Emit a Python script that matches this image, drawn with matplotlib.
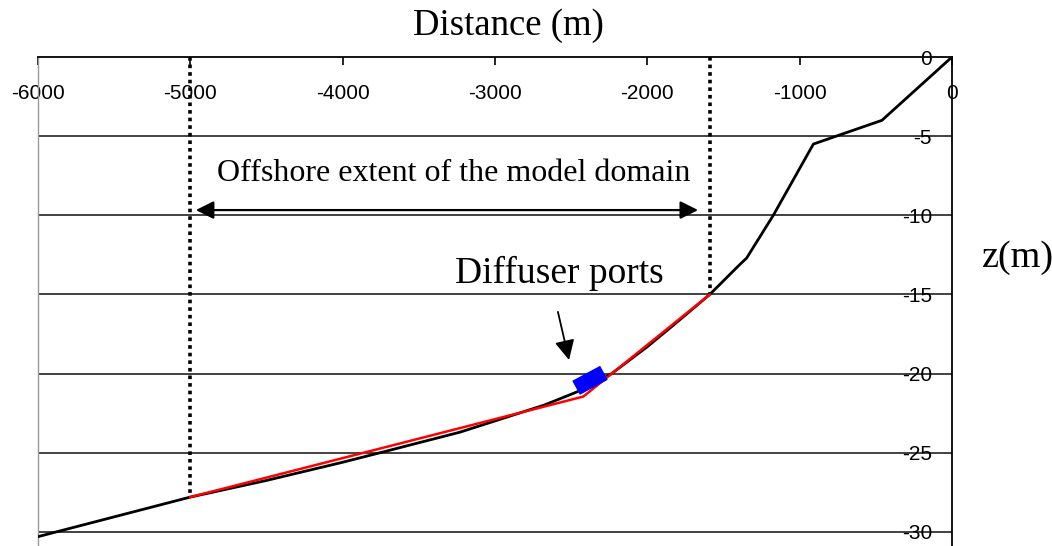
import matplotlib
matplotlib.use("Agg")
import matplotlib.pyplot as plt

# Seabed profile (distance offshore in m, elevation in m)
profile_x = [-6000, -5500, -5000, -4500, -4000, -3755, -3230, -2680, -2460,
             -2234, -2000, -1830, -1590, -1392, -1348, -1173, -910, -460, -230, 0]
profile_z = [-30.3, -29.05, -27.8, -26.75, -25.6, -25.0, -23.7, -22.0, -21.15,
             -20.0, -18.3, -16.95, -15.0, -13.1, -12.7, -10.0, -5.5, -4.0, -2.0, 0.0]

# Model bathymetry inside the domain
model_x = [-5000, -2420, -1590]
model_z = [-27.8, -21.45, -15.0]

# Diffuser segment (start/end)
diffuser_x = [-2468, -2285]
diffuser_z = [-20.9, -19.95]

# Domain limits
domain_x = [-5000, -1590]
domain_bottom = [-27.8, -15.0]

x_ticks = [-6000, -5000, -4000, -3000, -2000, -1000, 0]
y_ticks = [0, -5, -10, -15, -20, -25, -30]

W, H = 1052, 546
fig = plt.figure(figsize=(W / 100, H / 100), dpi=100)
ax = fig.add_axes([38 / W, 0, (952 - 38) / W, (546 - 57) / H])

ax.set_xlim(-6000, 0)
ax.set_ylim(-(546 - 57) / 15.83, 0)

# horizontal grid
for yv in y_ticks[1:]:
    ax.axhline(yv, color="#333333", lw=1.3, zorder=1)

# domain limits (dotted verticals)
for xv, zb in zip(domain_x, domain_bottom):
    ax.plot([xv, xv], [0, zb], color="black", lw=2.6, linestyle=(0, (1, 1.1)),
            solid_capstyle="butt", zorder=2)

ax.plot(profile_x, profile_z, color="black", lw=2.0, zorder=3)
ax.plot(model_x, model_z, color="#ff0000", lw=1.8, zorder=4)
ax.plot(diffuser_x, diffuser_z, color="#0000ff", lw=11.5, solid_capstyle="butt", zorder=5)

serif = "Liberation Serif"

# domain extent annotation
ax.annotate("", xy=(-1667, -9.67), xytext=(-4964, -9.67),
            arrowprops=dict(arrowstyle="<|-|>", color="black", lw=1.6,
                            mutation_scale=27, shrinkA=0, shrinkB=0), zorder=6)
ax.text(-3269, -7.83, "Offshore extent of the model domain", family=serif,
        fontsize=23, ha="center", va="baseline", zorder=6)

# diffuser label and arrow
ax.annotate("", xy=(-2514, -19.14), xytext=(-2587, -16.1),
            arrowprops=dict(arrowstyle="-|>", color="black", lw=1.3,
                            mutation_scale=30, shrinkA=0, shrinkB=0), zorder=6)
ax.text(-3263, -14.28, "Diffuser ports", family=serif, fontsize=27,
        ha="left", va="baseline", zorder=6)

# axes styling
ax.spines["bottom"].set_visible(False)
ax.spines["left"].set_color("#999999")
ax.spines["left"].set_linewidth(1.0)
ax.spines["top"].set_color("black")
ax.spines["top"].set_linewidth(1.3)
ax.spines["right"].set_color("black")
ax.spines["right"].set_linewidth(1.3)

ax.set_xticks(x_ticks)
ax.set_xticklabels([str(v) for v in x_ticks])
ax.tick_params(axis="x", bottom=False, labelbottom=False, top=True, labeltop=True,
               direction="in", length=6, width=1.2, pad=-33, labelsize=15)
for lab in ax.get_xticklabels():
    lab.set_family("Liberation Sans")

ax.set_yticks(y_ticks)
ax.set_yticklabels([str(v) for v in y_ticks])
ax.tick_params(axis="y", left=False, labelleft=False, right=True, labelright=True,
               direction="in", length=0, pad=-14.4, labelsize=15)
for lab in ax.get_yticklabels():
    lab.set_ha("right")
    lab.set_family("Liberation Sans")

fig.text(508 / W, 1 - 35 / H, "Distance (m)", family=serif, fontsize=26.5,
         ha="center", va="baseline")
fig.text(982 / W, 1 - 267 / H, "z(m)", family=serif, fontsize=27.5,
         ha="left", va="baseline")

fig.savefig("out.png", dpi=100)
